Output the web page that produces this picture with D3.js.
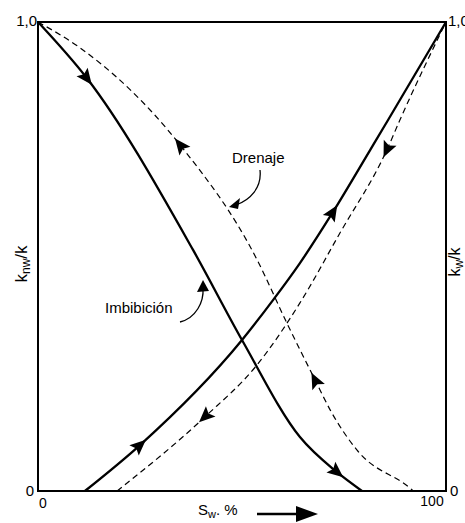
<!DOCTYPE html>
<html>
<head>
<meta charset="utf-8">
<script src="https://cdn.jsdelivr.net/npm/d3@7"></script>
<style>
  body { margin: 0; background: #fff; }
  text { font-family: "Liberation Sans", Arial, sans-serif; fill: #000; }
</style>
</head>
<body>
<svg id="chart" width="465" height="523"></svg>
<script>
// values (Sw in %, relative permeability 0..1)
var imbKnwSw = [0, 12, 38, 50, 64.2, 73.3, 79.4];
var imbKnw   = [1, 0.88, 0.514, 0.322, 0.115, 0.04, 0];
var drnKnwSw = [0, 10.3, 34.8, 53.7, 61, 67.9, 71.6, 78.2, 91.2, 92];
var drnKnw   = [1, 0.945, 0.738, 0.493, 0.358, 0.237, 0.173, 0.087, 0.006, 0];
var imbKwSw  = [11.5, 25, 50, 57.6, 64.2, 72.3, 81.4, 85.8, 100];
var imbKw    = [0, 0.098, 0.322, 0.407, 0.486, 0.595, 0.727, 0.791, 1];
var drnKwSw  = [19.4, 40.9, 53.7, 64.2, 74, 85.5, 88.7, 100];
var drnKw    = [0, 0.158, 0.269, 0.401, 0.55, 0.727, 0.791, 1];

// arrow positions (Sw); imbibition points to higher Sw, drainage to lower
var imbKnwArrows = [12, 73.3];
var drnKnwArrows = [34.8, 67.9];
var imbKwArrows = [25, 72.3];
var drnKwArrows = [40.9, 85.5];

var svg = d3.select('#chart');
var mLeft = 38, mRight = 446, mTop = 22, mBottom = 491;

var x = d3.scaleLinear().domain([0, 100]).range([mLeft, mRight]);
var y = d3.scaleLinear().domain([0, 1]).range([mBottom, mTop]);

function zip(a, b) { return a.map(function (v, i) { return [v, b[i]]; }); }

var line = d3.line()
    .x(function (d) { return x(d[0]); })
    .y(function (d) { return y(d[1]); })
    .curve(d3.curveMonotoneX);

function drawCurve(sw, k, dashed, arrows, dir) {
    var p = svg.append('path')
        .datum(zip(sw, k))
        .attr('d', line)
        .attr('fill', 'none')
        .attr('stroke', '#000')
        .attr('stroke-width', dashed ? 1.2 : 2.3)
        .attr('stroke-dasharray', dashed ? '6,4' : null);
    var node = p.node();
    var total = node.getTotalLength();
    arrows.forEach(function (v) {
        var px = x(v);
        var lo = 0, hi = total;
        for (var i = 0; i < 40; i++) {
            var mid = (lo + hi) / 2;
            if (node.getPointAtLength(mid).x < px) lo = mid; else hi = mid;
        }
        var a = node.getPointAtLength(lo);
        var b = node.getPointAtLength(Math.min(total, lo + 2));
        var ang = Math.atan2(b.y - a.y, b.x - a.x) * 180 / Math.PI;
        if (dir < 0) ang += 180;
        svg.append('path')
            .attr('d', 'M8,0 L-8,-7 L-5,0 L-8,7 Z')
            .attr('fill', '#000')
            .attr('transform', 'translate(' + a.x + ',' + a.y + ') rotate(' + ang + ')');
    });
}

drawCurve(drnKnwSw, drnKnw, true, drnKnwArrows, -1);
drawCurve(drnKwSw, drnKw, true, drnKwArrows, -1);
drawCurve(imbKnwSw, imbKnw, false, imbKnwArrows, 1);
drawCurve(imbKwSw, imbKw, false, imbKwArrows, 1);

// frame
svg.append('rect')
    .attr('x', mLeft).attr('y', mTop)
    .attr('width', mRight - mLeft).attr('height', mBottom - mTop)
    .attr('fill', 'none')
    .attr('stroke', '#000')
    .attr('stroke-width', 2);

// tick labels
svg.append('text').attr('x', 37).attr('y', 26).attr('text-anchor', 'end')
    .style('font-size', '15px').text('1,0');
svg.append('text').attr('x', 448).attr('y', 26)
    .style('font-size', '15px').text('1,0');
svg.append('text').attr('x', 34).attr('y', 496).attr('text-anchor', 'end')
    .style('font-size', '15px').text('0');
svg.append('text').attr('x', 450).attr('y', 496)
    .style('font-size', '15px').text('0');
svg.append('text').attr('x', x(0) + 5).attr('y', 508).attr('text-anchor', 'middle')
    .style('font-size', '14px').text('0');
svg.append('text').attr('x', x(100) - 14).attr('y', 506).attr('text-anchor', 'middle')
    .style('font-size', '14px').text('100');

// x label with arrow
var xl = svg.append('text').attr('x', 198).attr('y', 515).style('font-size', '15px');
xl.append('tspan').text('S');
xl.append('tspan').attr('dy', 3).style('font-size', '11px').text('w');
xl.append('tspan').attr('dy', -3).text('. %');
svg.append('line').attr('x1', 257).attr('x2', 300).attr('y1', 514).attr('y2', 514)
    .attr('stroke', '#000').attr('stroke-width', 2.5);
svg.append('path').attr('d', 'M296,506 L318,514 L296,522 Z').attr('fill', '#000');

// y labels
var yl = svg.append('text')
    .attr('transform', 'translate(27,264) rotate(-90)')
    .attr('text-anchor', 'middle').style('font-size', '17px');
yl.append('tspan').text('k');
yl.append('tspan').attr('dy', 3).style('font-size', '12px').text('nw');
yl.append('tspan').attr('dy', -3).text('/k');

var yr = svg.append('text')
    .attr('transform', 'translate(460,262) rotate(-90)')
    .attr('text-anchor', 'middle').style('font-size', '16px');
yr.append('tspan').text('k');
yr.append('tspan').attr('dy', 3).style('font-size', '12px').text('w');
yr.append('tspan').attr('dy', -3).text('/k');

// annotations
svg.append('text').attr('x', 232).attr('y', 163).style('font-size', '15px').text('Drenaje');
svg.append('path').attr('d', 'M260,170 C262,188 250,200 236,205')
    .attr('fill', 'none').attr('stroke', '#000').attr('stroke-width', 1.3);
svg.append('path').attr('d', 'M229,207 L240,198 L238,209 Z').attr('fill', '#000');

svg.append('text').attr('x', 105).attr('y', 313).style('font-size', '15px').text('Imbibición');
svg.append('path').attr('d', 'M180,322 C196,318 204,302 203,288')
    .attr('fill', 'none').attr('stroke', '#000').attr('stroke-width', 1.3);
svg.append('path').attr('d', 'M203,280 L197,292 L209,291 Z').attr('fill', '#000');
</script>
</body>
</html>
